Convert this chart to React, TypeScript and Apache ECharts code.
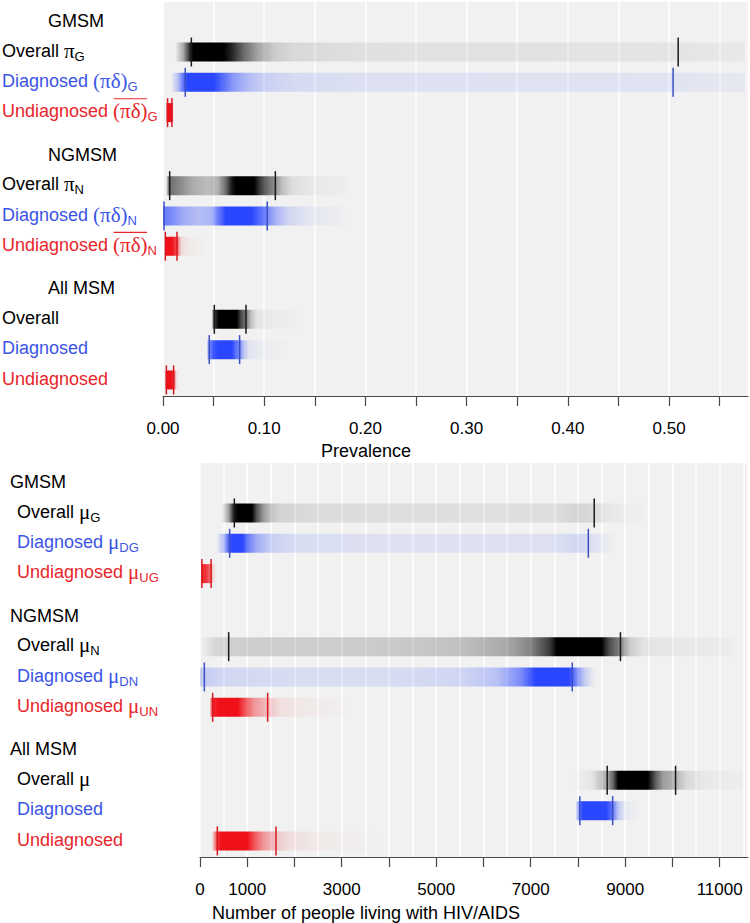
import React, { useEffect, useRef } from 'react';
import * as echarts from 'echarts';

const SANS = '"Liberation Sans", Arial, Helvetica, sans-serif';
const SERIF = '"Liberation Serif", "Times New Roman", serif';

const groupNames = ['GMSM', 'NGMSM', 'All MSM'];

// ---------- Top panel: prevalence ----------
const prevTicks = [0, 0.05, 0.1, 0.15, 0.2, 0.25, 0.3, 0.35, 0.4, 0.45, 0.5, 0.55];
const prevTickLabels = [0, 0.1, 0.2, 0.3, 0.4, 0.5];
const prevMax = 0.578;
const prevGridStep = 0.05;

// 95% credible intervals [lower, upper]
const prevCI: number[][] = [
  [0.028, 0.509], [0.022, 0.504], [0.0045, 0.0088],
  [0.0066, 0.111], [0.001, 0.103], [0.0023, 0.0138],
  [0.0507, 0.082], [0.0457, 0.0757], [0.0033, 0.0105],
];

// posterior density strips: [value, relative density]
const prevGmsmOverall = [[0.012, 0], [0.02, 0.3], [0.027, 0.85], [0.03, 1], [0.06, 1], [0.068, 0.85], [0.08, 0.55], [0.095, 0.3], [0.11, 0.16], [0.13, 0.1], [0.2, 0.07], [0.3, 0.065], [0.4, 0.06], [0.509, 0.055], [0.54, 0.045], [0.575, 0.035]];
const prevGmsmDiag = [[0.008, 0], [0.015, 0.3], [0.021, 0.8], [0.024, 1], [0.05, 1], [0.058, 0.8], [0.07, 0.5], [0.085, 0.3], [0.1, 0.2], [0.13, 0.13], [0.2, 0.1], [0.3, 0.09], [0.4, 0.085], [0.504, 0.08], [0.54, 0.06], [0.575, 0.05]];
const prevGmsmUndiag = [[0.0025, 0], [0.0045, 1], [0.0088, 1], [0.0105, 0]];
const prevNgmsmOverall = [[0.003, 0], [0.006, 0.55], [0.015, 0.45], [0.03, 0.28], [0.045, 0.22], [0.054, 0.26], [0.062, 0.55], [0.068, 0.9], [0.072, 1], [0.09, 1], [0.096, 0.75], [0.103, 0.55], [0.111, 0.4], [0.118, 0.2], [0.128, 0.08], [0.15, 0.035], [0.18, 0.015], [0.185, 0]];
const prevNgmsmDiag = [[0, 0.7], [0.008, 0.6], [0.02, 0.4], [0.035, 0.3], [0.048, 0.35], [0.055, 0.7], [0.062, 1], [0.088, 1], [0.095, 0.8], [0.103, 0.6], [0.112, 0.35], [0.125, 0.15], [0.145, 0.06], [0.175, 0.02], [0.18, 0]];
const prevNgmsmUndiag = [[0.0015, 0], [0.0023, 1], [0.009, 1], [0.0138, 0.7], [0.018, 0.1], [0.025, 0.04], [0.037, 0.012], [0.04, 0]];
const prevAllOverall = [[0.048, 0], [0.0507, 0.75], [0.055, 1], [0.073, 1], [0.077, 0.7], [0.082, 0.5], [0.087, 0.2], [0.093, 0.05], [0.11, 0.025], [0.13, 0.01], [0.135, 0]];
const prevAllDiag = [[0.043, 0], [0.0457, 0.6], [0.05, 0.9], [0.055, 1], [0.068, 1], [0.072, 0.75], [0.0757, 0.6], [0.08, 0.25], [0.085, 0.07], [0.1, 0.025], [0.12, 0.01], [0.125, 0]];
const prevAllUndiag = [[0.002, 0], [0.0033, 1], [0.008, 1], [0.0105, 0.85], [0.013, 0.1], [0.016, 0]];

const prevDensity = [
  prevGmsmOverall, prevGmsmDiag, prevGmsmUndiag,
  prevNgmsmOverall, prevNgmsmDiag, prevNgmsmUndiag,
  prevAllOverall, prevAllDiag, prevAllUndiag,
];

const prevRowLabels: string[][][] = [
  [['n', 'Overall '], ['g', 'π'], ['s', 'G']],
  [['n', 'Diagnosed '], ['g', '(πδ)'], ['s', 'G']],
  [['n', 'Undiagnosed '], ['o', '(πδ)'], ['s', 'G']],
  [['n', 'Overall '], ['g', 'π'], ['s', 'N']],
  [['n', 'Diagnosed '], ['g', '(πδ)'], ['s', 'N']],
  [['n', 'Undiagnosed '], ['o', '(πδ)'], ['s', 'N']],
  [['n', 'Overall']],
  [['n', 'Diagnosed']],
  [['n', 'Undiagnosed']],
];

// ---------- Bottom panel: number living with HIV/AIDS ----------
const countTicks = [0, 1000, 2000, 3000, 4000, 5000, 6000, 7000, 8000, 9000, 10000, 11000];
const countTickLabels = [0, 1000, 3000, 5000, 7000, 9000, 11000];
const countMax = 11600;
const countGridStep = 500;

const countCI: number[][] = [
  [727, 8345], [628, 8220], [40, 235],
  [607, 8900], [92, 7880], [268, 1432],
  [8620, 10067], [8040, 8735], [367, 1608],
];

const countGmsmOverall = [[450, 0], [600, 0.3], [727, 0.9], [800, 1], [1100, 1], [1200, 0.65], [1350, 0.35], [1500, 0.2], [1700, 0.12], [2500, 0.09], [4000, 0.08], [6000, 0.075], [7500, 0.08], [8000, 0.12], [8345, 0.1], [8600, 0.05], [9000, 0.02], [9400, 0.01], [9450, 0]];
const countGmsmDiag = [[350, 0], [500, 0.3], [628, 0.9], [700, 1], [900, 1], [1000, 0.7], [1200, 0.4], [1500, 0.2], [2000, 0.12], [4000, 0.09], [6000, 0.09], [7500, 0.1], [8000, 0.15], [8220, 0.12], [8500, 0.05], [8700, 0.02], [8800, 0]];
const countGmsmUndiag = [[20, 0], [40, 0.9], [120, 0.85], [180, 0.7], [235, 0.55], [270, 0.12], [320, 0.04], [350, 0]];
const countNgmsmOverall = [[0, 0], [300, 0.1], [607, 0.14], [1500, 0.15], [3000, 0.15], [4500, 0.17], [5500, 0.2], [6500, 0.3], [7000, 0.45], [7400, 0.75], [7550, 1], [8500, 1], [8650, 0.7], [8900, 0.45], [9100, 0.15], [9400, 0.06], [10000, 0.04], [11000, 0.03], [11300, 0.01], [11350, 0]];
const countNgmsmDiag = [[0, 0.22], [92, 0.22], [500, 0.15], [2000, 0.12], [4000, 0.12], [5500, 0.16], [6300, 0.28], [6800, 0.6], [7100, 1], [7800, 1], [7880, 0.85], [8000, 0.5], [8150, 0.2], [8300, 0.05], [8400, 0]];
const countNgmsmUndiag = [[200, 0], [268, 0.9], [400, 1], [800, 1], [950, 0.7], [1150, 0.4], [1432, 0.22], [1700, 0.08], [2200, 0.035], [3000, 0.012], [3200, 0]];
const countAllOverall = [[7900, 0], [8300, 0.05], [8620, 0.3], [8750, 0.6], [8850, 1], [9480, 1], [9650, 0.6], [9800, 0.35], [10067, 0.25], [10300, 0.1], [10700, 0.035], [11500, 0.015], [11550, 0]];
const countAllDiag = [[7950, 0], [8040, 0.7], [8100, 1], [8600, 1], [8735, 0.7], [8850, 0.25], [9000, 0.05], [9250, 0.015], [9300, 0]];
const countAllUndiag = [[250, 0], [367, 0.8], [450, 1], [1000, 1], [1150, 0.7], [1350, 0.4], [1608, 0.2], [1900, 0.08], [2500, 0.035], [3500, 0.012], [3800, 0]];

const countDensity = [
  countGmsmOverall, countGmsmDiag, countGmsmUndiag,
  countNgmsmOverall, countNgmsmDiag, countNgmsmUndiag,
  countAllOverall, countAllDiag, countAllUndiag,
];

const countRowLabels: string[][][] = [
  [['n', 'Overall '], ['g', 'μ'], ['s', 'G']],
  [['n', 'Diagnosed '], ['g', 'μ'], ['s', 'DG']],
  [['n', 'Undiagnosed '], ['g', 'μ'], ['s', 'UG']],
  [['n', 'Overall '], ['g', 'μ'], ['s', 'N']],
  [['n', 'Diagnosed '], ['g', 'μ'], ['s', 'DN']],
  [['n', 'Undiagnosed '], ['g', 'μ'], ['s', 'UN']],
  [['n', 'Overall '], ['g', 'μ']],
  [['n', 'Diagnosed']],
  [['n', 'Undiagnosed']],
];

// ---------- styling / layout ----------
const KIND_RGB = ['0,0,0', '42,70,255', '240,16,24'];
const KIND_LINE = ['#1a1a1a', '#3d4fc4', '#d81820'];
const KIND_TEXT = ['#000000', '#3b55e6', '#e8262b'];
const BG = '#f0f1f0';
const BAR_H = 19;
const LINE_H = 29;
const Y_MAX = 13;
const GRID_H = 394;
const GREEK_SIZE = 21;

const panels = [
  { top: 2, left: 163, labelX: 2, headerX: 48, titleY: 451, title: 'Prevalence' },
  { top: 463, left: 200, labelX: 17, headerX: 10, titleY: 913, title: 'Number of people living with HIV/AIDS' },
];

const rowY = (i: number) => 1.65 + 4.41 * Math.floor(i / 3) + (i % 3);
const headerY = (g: number) => 0.63 + 4.41 * g;

const rich = {
  n: { fontSize: 18, fontFamily: SANS, lineHeight: 24 },
  g: { fontSize: GREEK_SIZE, fontFamily: SERIF, lineHeight: 24 },
  o: { fontSize: GREEK_SIZE, fontFamily: SERIF, lineHeight: 24 },
  s: { fontSize: 13, fontFamily: SANS, lineHeight: 13, padding: [11, 0, 0, 0] },
};

let measureCtx: CanvasRenderingContext2D | null = null;
function textWidth(text: string, size: number, family: string) {
  if (!measureCtx) measureCtx = document.createElement('canvas').getContext('2d');
  if (!measureCtx) return text.length * size * 0.5;
  measureCtx.font = `${size}px ${family}`;
  return measureCtx.measureText(text).width;
}

function stripSeries(p: number, densities: number[][][], cis: number[][]) {
  return {
    type: 'custom',
    coordinateSystem: 'cartesian2d',
    xAxisIndex: p * 2,
    yAxisIndex: p,
    encode: { x: 0, y: 1 },
    z: 5,
    silent: true,
    data: densities.map((_, i) => [cis[i][0], rowY(i), i]),
    renderItem: (params: any, api: any) => {
      const i = api.value(2);
      const yv = api.value(1);
      const knots = densities[i];
      const kind = i % 3;
      const yc = api.coord([0, yv])[1];
      const xs = knots.map((k) => api.coord([k[0], yv])[0]);
      const x0 = xs[0];
      const x1 = xs[xs.length - 1];
      const w = Math.max(1e-6, x1 - x0);
      const stops = knots.map((k, j) => ({
        offset: Math.min(1, Math.max(0, (xs[j] - x0) / w)),
        color: `rgba(${KIND_RGB[kind]},${k[1]})`,
      }));
      const c = cis[i].map((v) => api.coord([v, yv])[0]);
      return {
        type: 'group',
        children: [
          {
            type: 'rect',
            shape: { x: x0, y: yc - BAR_H / 2, width: w, height: BAR_H },
            style: { fill: { type: 'linear', x: 0, y: 0, x2: 1, y2: 0, colorStops: stops } },
          },
          {
            type: 'line',
            shape: { x1: c[0], y1: yc - LINE_H / 2, x2: c[0], y2: yc + LINE_H / 2 },
            style: { stroke: KIND_LINE[kind], lineWidth: 1.5 },
          },
          {
            type: 'line',
            shape: { x1: c[1], y1: yc - LINE_H / 2, x2: c[1], y2: yc + LINE_H / 2 },
            style: { stroke: KIND_LINE[kind], lineWidth: 1.5 },
          },
        ],
      };
    },
  };
}

function mainAxis(p: number, max: number, ticks: number[], labels: number[], interval: number, fmt: (v: number) => string) {
  return {
    type: 'value',
    gridIndex: p,
    min: 0,
    max,
    interval,
    axisLine: { show: true, onZero: false, lineStyle: { color: '#4a4a4a', width: 1.2 } },
    axisTick: { show: true, length: 10, customValues: ticks, lineStyle: { color: '#4a4a4a', width: 1.2 } },
    axisLabel: {
      show: true,
      customValues: labels,
      margin: 24,
      fontSize: 17,
      fontFamily: SANS,
      color: '#000',
      formatter: (v: number) => (labels.some((t) => Math.abs(t - v) < 1e-9 * Math.max(1, Math.abs(t))) ? fmt(v) : ''),
    },
    splitLine: { show: false },
  };
}

function gridAxis(p: number, max: number, step: number) {
  return {
    type: 'value',
    gridIndex: p,
    min: 0,
    max,
    interval: step,
    axisLine: { show: false },
    axisTick: { show: false },
    axisLabel: { show: false },
    splitLine: { show: true, lineStyle: { color: '#ffffff', width: 1.5 } },
  };
}

export default function App() {
  const ref = useRef<HTMLDivElement>(null);

  useEffect(() => {
    if (!ref.current) return;
    const chart = echarts.init(ref.current, undefined, { renderer: 'svg' });

    const option: any = {
      animation: false,
      backgroundColor: '#ffffff',
      grid: panels.map((p) => ({
        left: p.left,
        top: p.top,
        right: 2,
        height: GRID_H,
        show: true,
        backgroundColor: BG,
        borderWidth: 0,
      })),
      xAxis: [
        mainAxis(0, prevMax, prevTicks, prevTickLabels, prevGridStep, (v) => v.toFixed(2)),
        gridAxis(0, prevMax, prevGridStep),
        mainAxis(1, countMax, countTicks, countTickLabels, 1000, (v) => String(Math.round(v))),
        gridAxis(1, countMax, countGridStep),
      ],
      yAxis: [0, 1].map((p) => ({
        type: 'value',
        gridIndex: p,
        min: 0,
        max: Y_MAX,
        inverse: true,
        show: false,
        splitLine: { show: false },
      })),
      series: [
        stripSeries(0, prevDensity, prevCI),
        stripSeries(1, countDensity, countCI),
      ],
    };

    chart.setOption(option);

    const graphics: any[] = [];
    const allLabels = [prevRowLabels, countRowLabels];
    panels.forEach((p, pi) => {
      const toPx = (v: number) => chart.convertToPixel({ yAxisIndex: pi } as any, v) as number;
      groupNames.forEach((name, g) => {
        graphics.push({
          type: 'text',
          x: p.headerX,
          y: toPx(headerY(g)),
          silent: true,
          style: { text: name, fontSize: 18, fontFamily: SANS, fill: '#000', align: 'left', verticalAlign: 'middle' },
        });
      });
      allLabels[pi].forEach((tokens, i) => {
        const kind = i % 3;
        const yc = toPx(rowY(i) - 0.045);
        const text = tokens.map(([s, t]) => `{${s}|${t}}`).join('');
        graphics.push({
          type: 'text',
          x: p.labelX,
          y: yc,
          silent: true,
          style: { text, rich, fontSize: 18, fontFamily: SANS, fill: KIND_TEXT[kind], align: 'left', verticalAlign: 'middle' },
        });
        // overline for the complement (undiagnosed) quantity
        let x = p.labelX;
        tokens.forEach(([s, t]) => {
          const w = s === 'n' ? textWidth(t, 18, SANS) : s === 's' ? textWidth(t, 13, SANS) : textWidth(t, GREEK_SIZE, SERIF);
          if (s === 'o') {
            graphics.push({
              type: 'line',
              silent: true,
              shape: { x1: x + 0.5, y1: yc - 12.5, x2: x + w - 0.5, y2: yc - 12.5 },
              style: { stroke: KIND_TEXT[kind], lineWidth: 1.2 },
            });
          }
          x += w;
        });
      });
      graphics.push({
        type: 'text',
        x: 366,
        y: p.titleY,
        silent: true,
        style: { text: p.title, fontSize: 18, fontFamily: SANS, fill: '#000', align: 'center', verticalAlign: 'middle' },
      });
    });

    chart.setOption({ graphic: graphics });

    return () => chart.dispose();
  }, []);

  return (
    <div
      ref={ref}
      style={{ position: 'absolute', left: 0, top: 0, width: 750, height: 923, background: '#fff' }}
    />
  );
}
